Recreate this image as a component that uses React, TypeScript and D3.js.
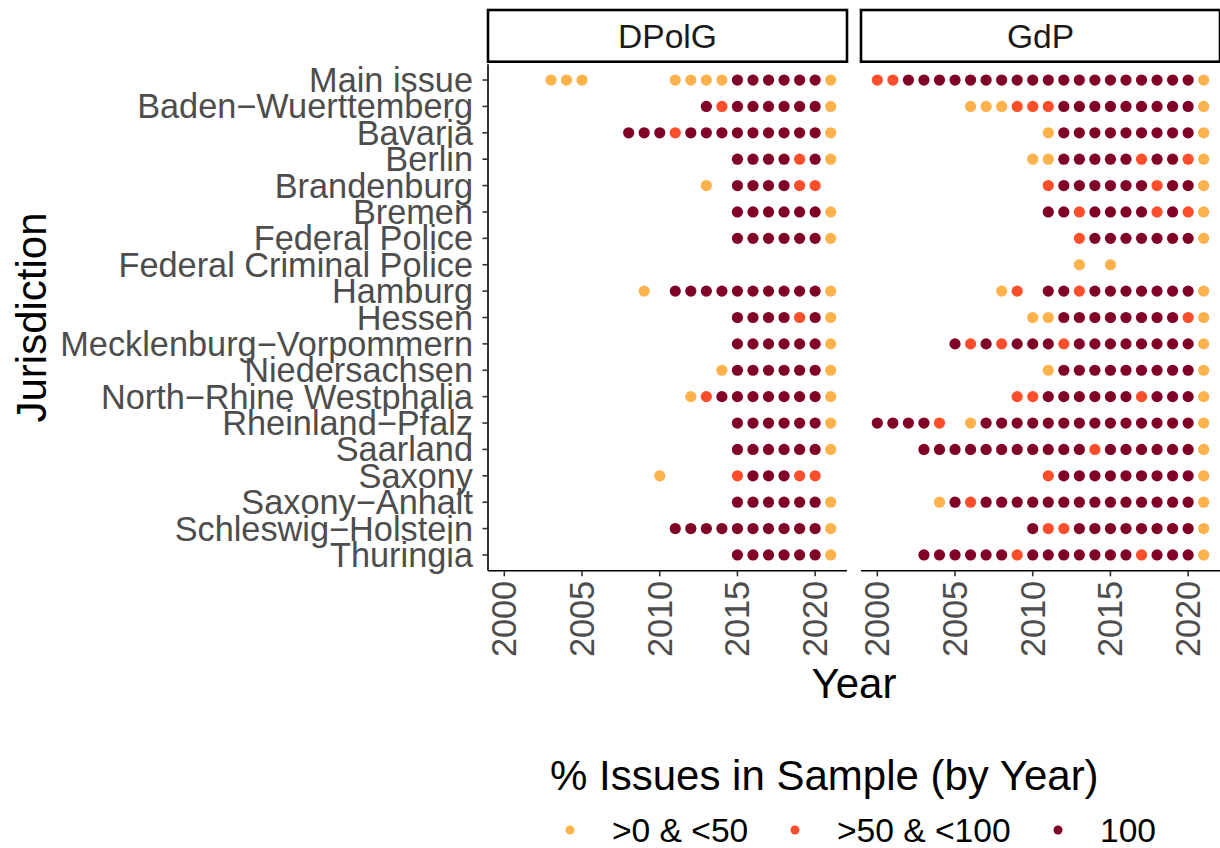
import * as d3 from 'd3'

const JURISDICTIONS = [
  'Main issue', 'Baden−Wuerttemberg', 'Bavaria', 'Berlin', 'Brandenburg', 'Bremen',
  'Federal Police', 'Federal Criminal Police', 'Hamburg', 'Hessen',
  'Mecklenburg−Vorpommern', 'Niedersachsen', 'North−Rhine Westphalia',
  'Rheinland−Pfalz', 'Saarland', 'Saxony', 'Saxony−Anhalt', 'Schleswig−Holstein', 'Thuringia',
]

const YEARS = [2000, 2001, 2002, 2003, 2004, 2005, 2006, 2007, 2008, 2009, 2010,
  2011, 2012, 2013, 2014, 2015, 2016, 2017, 2018, 2019, 2020, 2021]
const YEAR_TICKS = [2000, 2005, 2010, 2015, 2020]

// one char per year 2000..2021, grouped by 5 years:
// '.' no issue, a = >0 & <50, b = >50 & <100, c = 100
const DPOLG_ROWS = [
  '...aa a.... .aaaa ccccc ca',
  '..... ..... ...cb ccccc ca',
  '..... ...cc cbccc ccccc ca',
  '..... ..... ..... ccccb ca',
  '..... ..... ...a. ccccb b.',
  '..... ..... ..... ccccc ca',
  '..... ..... ..... ccccc ca',
  '..... ..... ..... ..... ..',
  '..... ....a .cccc ccccc ca',
  '..... ..... ..... ccccb ca',
  '..... ..... ..... ccccc ca',
  '..... ..... ....a ccccc ca',
  '..... ..... ..abc ccccc ca',
  '..... ..... ..... ccccc ca',
  '..... ..... ..... ccccc ca',
  '..... ..... a.... bcccb b.',
  '..... ..... ..... ccccc ca',
  '..... ..... .cccc ccccc ca',
  '..... ..... ..... ccccc ca',
]

const GDP_ROWS = [
  'bbccc ccccc ccccc ccccc ca',
  '..... .aaab bbccc ccccc ca',
  '..... ..... .accc ccccc ca',
  '..... ..... aaccc ccbcc ba',
  '..... ..... .bccc cccbc ca',
  '..... ..... .ccbc cccbc ba',
  '..... ..... ...bc ccccc ca',
  '..... ..... ...a. a.... ..',
  '..... ...ab .ccbc ccccc ca',
  '..... ..... aaccc ccccc ba',
  '..... cbcbc ccbcc ccccc ca',
  '..... ..... .accc ccccc ca',
  '..... ....b bcccc ccbcc ca',
  'ccccb .accc ccccc ccccc ca',
  '...cc ccccc ccccb ccccc ca',
  '..... ..... .bccc ccccc ca',
  '....a cbccc ccccc ccccc ca',
  '..... ..... cbbcc ccccc ca',
  '...cc ccccb ccccc ccbcc ca',
]

const PANELS = ['DPolG', 'GdP']
const LEVELS = ['a', 'b', 'c']
const LEVEL_LABELS = ['>0 & <50', '>50 & <100', '100']
const LEVEL_COLORS = ['#FEB24C', '#FC4E2A', '#800026']

const FONT = '"Liberation Sans", Arial, Helvetica, sans-serif'
const TICK_SIZE = 34.3
const PANEL_LEFT = [488, 861]
const PANEL_W = 359
const PANEL_TOP = 64.2
const PANEL_BOTTOM = 570.8
const STRIP_TOP = 10
const STRIP_BOTTOM = 61.7

const color = d3.scaleOrdinal<string, string>().domain(LEVELS).range(LEVEL_COLORS)
const y = d3.scalePoint<string>().domain(JURISDICTIONS).range([PANEL_TOP, PANEL_BOTTOM]).padding(0.6)

function Panel({ idx, rows }: { idx: number; rows: string[] }) {
  const left = PANEL_LEFT[idx]
  const x = d3.scaleLinear().domain([1998.95, 2022.05]).range([left, left + PANEL_W])
  const cx = left + PANEL_W / 2
  const dots: { j: string; yr: number; lv: string }[] = []
  rows.forEach((r, i) => {
    const codes = r.replace(/ /g, '')
    YEARS.forEach((yr, k) => {
      const ch = codes[k]
      if (LEVELS.includes(ch)) dots.push({ j: JURISDICTIONS[i], yr, lv: ch })
    })
  })
  return (
    <g>
      <rect x={left} y={STRIP_TOP} width={PANEL_W} height={STRIP_BOTTOM - STRIP_TOP}
        fill="white" stroke="black" strokeWidth={2.6} />
      <text x={cx} y={(STRIP_TOP + STRIP_BOTTOM) / 2} dy="0.35em" textAnchor="middle"
        fontSize={33.6} fill="#1A1A1A">{PANELS[idx]}</text>
      {dots.map((d, i) => (
        <circle key={i} cx={x(d.yr)} cy={y(d.j)} r={5.6} fill={color(d.lv)} />
      ))}
      <line x1={left} x2={left + PANEL_W} y1={PANEL_BOTTOM} y2={PANEL_BOTTOM} stroke="black" strokeWidth={1.6} />
      {YEAR_TICKS.map((t) => (
        <g key={t}>
          <line x1={x(t)} x2={x(t)} y1={PANEL_BOTTOM} y2={PANEL_BOTTOM + 5.5} stroke="#333333" strokeWidth={1.6} />
          <text transform={`translate(${x(t)},${PANEL_BOTTOM + 10}) rotate(-90)`} dy="0.35em"
            textAnchor="end" fontSize={TICK_SIZE} fill="#4D4D4D">{t}</text>
        </g>
      ))}
    </g>
  )
}

export default function App() {
  const left = PANEL_LEFT[0]
  const legendX = [570, 795, 1058]
  return (
    <svg width={1220} height={848} style={{ position: 'absolute', left: 0, top: 0, background: 'white' }}
      fontFamily={FONT}>
      <rect width={1220} height={848} fill="white" />
      <Panel idx={0} rows={DPOLG_ROWS} />
      <Panel idx={1} rows={GDP_ROWS} />
      <line x1={left} x2={left} y1={PANEL_TOP} y2={PANEL_BOTTOM} stroke="black" strokeWidth={1.6} />
      {JURISDICTIONS.map((j) => (
        <g key={j}>
          <line x1={left - 5.5} x2={left} y1={y(j)} y2={y(j)} stroke="#333333" strokeWidth={1.6} />
          <text x={left - 15} y={y(j)} dy="0.35em" textAnchor="end" fontSize={TICK_SIZE} fill="#4D4D4D">{j}</text>
        </g>
      ))}
      <text x={(PANEL_LEFT[0] + PANEL_LEFT[1] + PANEL_W) / 2} y={698} textAnchor="middle" fontSize={42}>Year</text>
      <text transform={`translate(46,${(PANEL_TOP + PANEL_BOTTOM) / 2}) rotate(-90)`} textAnchor="middle"
        fontSize={42}>Jurisdiction</text>
      <text x={550} y={790} fontSize={42}>% Issues in Sample (by Year)</text>
      {LEVELS.map((lv, i) => (
        <g key={lv}>
          <circle cx={legendX[i]} cy={830} r={4.5} fill={color(lv)} />
          <text x={legendX[i] + 42} y={830} dy="0.35em" fontSize={33.6}>{LEVEL_LABELS[i]}</text>
        </g>
      ))}
    </svg>
  )
}
